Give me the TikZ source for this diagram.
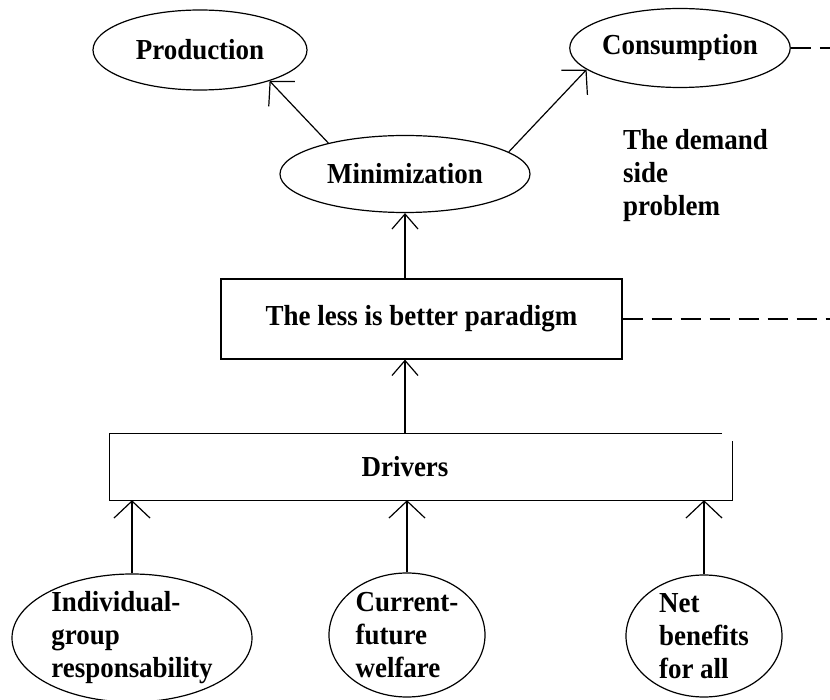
\documentclass[tikz,border=0pt]{standalone}
\usepackage{fontspec}
\setmainfont{Liberation Serif}
\newfontfamily\diagfam[FakeStretch=0.93]{Liberation Serif}
\usetikzlibrary{arrows.meta,shapes.geometric}
\newcommand\diagfont{\diagfam\fontsize{29}{33}\selectfont\bfseries}
\tikzset{
    oval/.style={
        draw, ellipse, inner xsep=0pt, inner ysep=-6pt, line width=1.2pt,
        font=\diagfont, align=left
    },
    box/.style={
        draw, rectangle, inner sep=0pt, line width=1.2pt,
        font=\diagfont
    },
    up arrow/.style={
        line width=1.2pt,
        -{Straight Barb[length=15pt,width=26pt]}
    },
    wide arrow/.style={
        line width=1.2pt,
        -{Straight Barb[length=17pt,width=36pt]}
    },
    link/.style={
        line width=1.2pt,
        dash pattern=on 20pt off 9pt
    }
}

\begin{document}
\begin{tikzpicture}[x=1pt,y=-1pt]
    \useasboundingbox (0,0) rectangle (830,700);

    \node[oval, minimum width=214pt, minimum height=80pt] (prod) at (200,50) {Production};
    \node[oval, minimum width=216pt, minimum height=79pt] (cons) at (680,48) {Consumption};
    \node[oval, minimum width=250pt, minimum height=77pt] (min) at (405,174) {Minimization};
    \node[anchor=west, align=left, inner sep=0pt, font=\diagfont] (dsp) at (623,176) {The demand\\side\\problem};

    \node[box, minimum width=401pt, minimum height=80pt] (par) at (421.5,319) {The less is better paradigm};
    \node[inner sep=0pt, minimum width=622pt, minimum height=66pt,
        label={[xshift=-16pt, font=\diagfont]center:Drivers}] (drv) at (421,467) {};

    \node[oval, minimum width=240pt, minimum height=128pt] (ind) at (132,638) {Individual-\\group\\responsability};
    \node[oval, minimum width=156pt, minimum height=124pt] (cur) at (407,635) {Current-\\future\\welfare};
    \node[oval, minimum width=156pt, minimum height=122pt] (net) at (704,636) {Net\\benefits\\for all};

    \coordinate (rim1) at (830,48);
    \coordinate (rim2) at (830,319);

    % drivers box, top right corner left open
    \draw[line width=1.2pt] ([xshift=-10pt]drv.north east) -- (drv.north west) -- (drv.south west)
        -- (drv.south east) -- ([yshift=-7pt]drv.north east);

    \draw[wide arrow] (min.158) -- (prod.336);
    \draw[wide arrow] (min.12) -- (cons.193);
    \draw[up arrow] (par.north -| min.south) -- (min.south);
    \draw[up arrow] (drv.north -| min.south) -- (par.south -| min.south);

    \draw[wide arrow] (ind.north) -- (ind.north |- drv.south);
    \draw[wide arrow] (cur.north) -- (cur.north |- drv.south);
    \draw[wide arrow] (net.north) -- (net.north |- drv.south);

    \draw[link] (cons.east) -- (rim1);
    \draw[link] (par.east) -- (rim2);
\end{tikzpicture}
\end{document}
